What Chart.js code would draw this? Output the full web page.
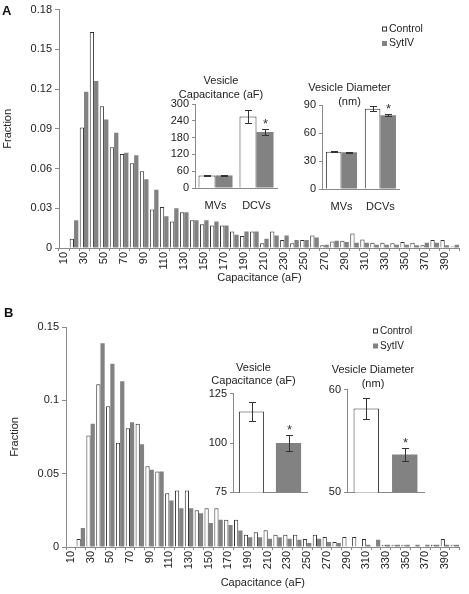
<!DOCTYPE html>
<html>
<head>
<meta charset="utf-8">
<script src="https://cdn.jsdelivr.net/npm/chart.js@4.4.1/dist/chart.umd.min.js"></script>
<style>
  body { margin: 0; background: #fff; }
  #fig { position: relative; width: 469px; height: 594px; overflow: hidden; font-family: "Liberation Sans", Arial, sans-serif; }
  .box { position: absolute; }
  .tag { position: absolute; font-weight: bold; font-size: 13px; line-height: 13px; color: #111; }
</style>
</head>
<body>
<div id="fig">
  <div class="box" style="left:0;top:0;width:469px;height:290px"><canvas id="histA"></canvas></div>
  <div class="box" style="left:0;top:290px;width:469px;height:304px"><canvas id="histB"></canvas></div>
  <div class="box" style="left:165px;top:74px;width:124px;height:141px"><canvas id="capA"></canvas></div>
  <div class="box" style="left:294px;top:81px;width:112px;height:135px"><canvas id="diaA"></canvas></div>
  <div class="box" style="left:200px;top:361px;width:140px;height:141px"><canvas id="capB"></canvas></div>
  <div class="box" style="left:322px;top:363px;width:122px;height:139px"><canvas id="diaB"></canvas></div>
  <div class="tag" style="left:2px;top:4px">A</div>
  <div class="tag" style="left:4px;top:306px">B</div>
</div>
<script>
// histogram bins (aF)
const bins = [10, 20, 30, 40, 50, 60, 70, 80, 90, 100,
  110, 120, 130, 140, 150, 160, 170, 180, 190, 200,
  210, 220, 230, 240, 250, 260, 270, 280, 290, 300,
  310, 320, 330, 340, 350, 360, 370, 380, 390, 400];

// panel A fractions
const ctrlA = [0, 0.007, 0.091, 0.163, 0.107, 0.076, 0.071, 0.064, 0.058, 0.029,
  0.031, 0.020, 0.027, 0.021, 0.018, 0.017, 0.017, 0.0125, 0.009, 0.0125,
  0.0035, 0.0125, 0.006, 0.0035, 0.006, 0.0095, 0.002, 0.005, 0.0055, 0.011,
  0.0065, 0.004, 0.004, 0.0035, 0.0045, 0.004, 0.002, 0.006, 0.006, 0.0012];
const sytA = [0, 0.021, 0.118, 0.126, 0.097, 0.087, 0.072, 0.070, 0.052, 0.044,
  0.024, 0.030, 0.027, 0.021, 0.021, 0.020, 0.017, 0.010, 0.0125, 0.0125,
  0.007, 0.0095, 0.0095, 0.006, 0.006, 0.008, 0.0025, 0.0055, 0.0045, 0.004,
  0.004, 0.0025, 0.0025, 0.0025, 0.0025, 0.002, 0.004, 0.004, 0.002, 0.0025];

// panel B fractions
const ctrlB = [0, 0.0055, 0.076, 0.111, 0.096, 0.071, 0.081, 0.084, 0.055, 0.0515,
  0.0367, 0.0385, 0.0385, 0.025, 0.0265, 0.0265, 0.0186, 0.0186, 0.0084, 0.010,
  0.0115, 0.0084, 0.0084, 0.0084, 0.0054, 0.0084, 0.0068, 0.0034, 0.0068, 0.0068,
  0.0054, 0, 0.0016, 0.0016, 0.0016, 0, 0, 0.0016, 0.0054, 0.0016];
const sytB = [0, 0.013, 0.084, 0.139, 0.125, 0.113, 0.085, 0.070, 0.0526, 0.0515,
  0.0317, 0.0265, 0.0265, 0.023, 0.0163, 0.0186, 0.015, 0.0113, 0.0066, 0.0066,
  0.0057, 0.0066, 0.0057, 0.005, 0.0027, 0.0057, 0.0034, 0.0027, 0, 0,
  0.0016, 0.005, 0.0016, 0.0016, 0.0016, 0.0016, 0.0016, 0.0016, 0.0016, 0.0016];

// inset data
const groups = ['MVs', 'DCVs'];
const capCtrlA = [45, 255], capCtrlErrA = [2, 22];
const capSytA = [45, 200], capSytErrA = [1.5, 10];
const diaCtrlA = [40, 86], diaCtrlErrA = [0.7, 2.5];
const diaSytA = [39.5, 79], diaSytErrA = [0.5, 1];
const capCtrlB = [116], capCtrlErrB = [5];
const capSytB = [100], capSytErrB = [3.8];
const diaCtrlB = [58.2], diaCtrlErrB = [1.05];
const diaSytB = [53.7], diaSytErrB = [0.65];

const FONT = '"Liberation Sans", Arial, sans-serif';
const GRAY = '#828282';
const INK = '#222';
const AXIS = '#8a8a8a';
Chart.defaults.font.family = FONT;
Chart.defaults.font.size = 11;
Chart.defaults.color = INK;
Chart.defaults.animation = false;

// small square legend drawn at a fixed spot
const boxLegend = {
  id: 'boxLegend',
  afterDraw(chart, args, opts) {
    if (opts.x == null) return;
    const ctx = chart.ctx;
    ctx.save();
    ctx.font = opts.size + 'px ' + FONT;
    ctx.textBaseline = 'middle';
    chart.data.datasets.forEach((ds, i) => {
      const y = opts.y + i * opts.gap;
      ctx.fillStyle = ds.backgroundColor;
      ctx.fillRect(opts.x, y - 2.5, 5, 5);
      if (ds.borderWidth) {
        ctx.strokeStyle = ds.borderColor;
        ctx.lineWidth = 1;
        ctx.strokeRect(opts.x + 0.5, y - 2, 4, 4);
      }
      ctx.fillStyle = INK;
      ctx.fillText(ds.label, opts.x + 7, y);
    });
    ctx.restore();
  }
};

// error bars + significance star
const errBars = {
  id: 'errBars',
  afterDatasetsDraw(chart, args, opts) {
    const ctx = chart.ctx, ys = chart.scales.y;
    ctx.save();
    ctx.strokeStyle = '#333';
    ctx.fillStyle = '#333';
    ctx.lineWidth = 1;
    chart.data.datasets.forEach((ds, i) => {
      chart.getDatasetMeta(i).data.forEach((bar, j) => {
        const v = ds.data[j], e = opts.errors[i][j];
        const x = Math.round(bar.x) + 0.5;
        const t = Math.round(ys.getPixelForValue(v + e)) + 0.5;
        const b = Math.round(ys.getPixelForValue(v - e)) + 0.5;
        ctx.beginPath();
        ctx.moveTo(x, t); ctx.lineTo(x, b);
        ctx.moveTo(x - 3.5, t); ctx.lineTo(x + 3.5, t);
        ctx.moveTo(x - 3.5, b); ctx.lineTo(x + 3.5, b);
        ctx.stroke();
        if (opts.star[0] === i && opts.star[1] === j) {
          ctx.font = '13px ' + FONT;
          ctx.textAlign = 'center';
          ctx.textBaseline = 'alphabetic';
          ctx.fillText('*', x, t - opts.starGap);
        }
      });
    });
    ctx.restore();
  }
};

const fixW = w => sc => { sc.width = w; };
const fixH = h => sc => { sc.height = h; };
const fmt = v => String(+v.toFixed(4));

function histogram(id, ctrl, syt, cfg) {
  return new Chart(document.getElementById(id), {
    type: 'bar',
    data: {
      labels: bins,
      datasets: [
        { label: 'Control', data: ctrl, backgroundColor: '#fff', borderColor: '#333', borderWidth: 1 },
        { label: 'SytIV', data: syt, backgroundColor: GRAY, borderWidth: 0 }
      ]
    },
    options: {
      responsive: true,
      maintainAspectRatio: false,
      datasets: { bar: { categoryPercentage: 0.86, barPercentage: 1 } },
      layout: { padding: cfg.pad },
      plugins: { legend: { display: false }, tooltip: { enabled: false }, boxLegend: cfg.legend },
      scales: {
        x: {
          afterFit: fixH(cfg.xh),
          grid: { display: true, drawOnChartArea: false, tickLength: 3, color: AXIS },
          border: { color: AXIS },
          ticks: { autoSkip: false, minRotation: 90, maxRotation: 90, padding: 1,
            callback: (v, i) => (i % 2 === 0 ? bins[i] : '') },
          title: { display: true, text: 'Capacitance (aF)', padding: { top: 0, bottom: cfg.xtPad } }
        },
        y: {
          min: 0, max: cfg.max,
          afterFit: fixW(cfg.yw),
          grid: { display: true, drawOnChartArea: false, tickLength: 4, color: AXIS },
          border: { color: AXIS },
          ticks: { stepSize: cfg.step, padding: 3, callback: fmt },
          title: { display: true, text: 'Fraction', padding: { top: cfg.ytPad, bottom: 0 } }
        }
      }
    },
    plugins: [boxLegend]
  });
}

function inset(id, labels, ctrl, ctrlErr, syt, sytErr, cfg) {
  return new Chart(document.getElementById(id), {
    type: 'bar',
    data: {
      labels: labels,
      datasets: [
        { label: 'Control', data: ctrl, backgroundColor: '#fff', borderColor: '#333', borderWidth: 1 },
        { label: 'SytIV', data: syt, backgroundColor: GRAY, borderWidth: 0 }
      ]
    },
    options: {
      responsive: true,
      maintainAspectRatio: false,
      datasets: { bar: { categoryPercentage: cfg.cat, barPercentage: cfg.bar } },
      layout: { padding: { top: 0, left: 0, right: cfg.padR, bottom: 0 } },
      plugins: {
        legend: { display: false },
        tooltip: { enabled: false },
        title: { display: true, text: cfg.title, color: INK,
          font: { size: 11, weight: 'normal', lineHeight: cfg.lh },
          padding: { top: 0, bottom: cfg.tPad } },
        errBars: { errors: [ctrlErr, sytErr], star: [1, labels.length - 1], starGap: cfg.starGap }
      },
      scales: {
        x: {
          afterFit: fixH(cfg.xh),
          grid: { display: true, drawOnChartArea: false, drawTicks: false, color: AXIS },
          border: { color: AXIS },
          ticks: { display: cfg.xLabels, padding: 11, font: { size: 11 } }
        },
        y: {
          min: cfg.min, max: cfg.max,
          afterFit: fixW(cfg.yw),
          grid: { display: true, drawOnChartArea: false, tickLength: 3, color: AXIS },
          border: { color: AXIS },
          ticks: { stepSize: cfg.step, padding: 3 }
        }
      }
    },
    plugins: [errBars]
  });
}

histogram('histA', ctrlA, sytA, {
  max: 0.18, step: 0.03, yw: 59, xh: 42, xtPad: 5, ytPad: 1,
  pad: { top: 6, right: 4, left: 0, bottom: 0 },
  legend: { x: 382, y: 29, gap: 14.5, size: 10.5 }
});
histogram('histB', ctrlB, sytB, {
  max: 0.15, step: 0.05, yw: 66, xh: 47, xtPad: 4, ytPad: 8,
  pad: { top: 37, right: 2, left: 0, bottom: 0 },
  legend: { x: 373, y: 41, gap: 15, size: 10 }
});

inset('capA', groups, capCtrlA, capCtrlErrA, capSytA, capSytErrA, {
  title: ['Vesicle', 'Capacitance (aF)'], lh: 1.3, tPad: 1.4,
  min: 0, max: 300, step: 60, yw: 30, padR: 12, xh: 27, xLabels: true,
  cat: 0.83, bar: 1, starGap: 2
});
inset('diaA', groups, diaCtrlA, diaCtrlErrA, diaSytA, diaSytErrA, {
  title: ['Vesicle Diameter', '(nm)'], lh: 1.25, tPad: -3.5,
  min: 0, max: 90, step: 30, yw: 28, padR: 1, xh: 27, xLabels: true,
  cat: 0.8, bar: 1, starGap: 2
});
inset('capB', [''], capCtrlB, capCtrlErrB, capSytB, capSytErrB, {
  title: ['Vesicle', 'Capacitance (aF)'], lh: 1.2, tPad: 6.2,
  min: 75, max: 125, step: 25, yw: 33, padR: 33, xh: 8, xLabels: false,
  cat: 1, bar: 0.68, starGap: 2
});
inset('diaB', [''], diaCtrlB, diaCtrlErrB, diaSytB, diaSytErrB, {
  title: ['Vesicle Diameter', '(nm)'], lh: 1.27, tPad: -1,
  min: 50, max: 60, step: 10, yw: 25, padR: 20, xh: 8, xLabels: false,
  cat: 1, bar: 0.66, starGap: 2
});
</script>
</body>
</html>
